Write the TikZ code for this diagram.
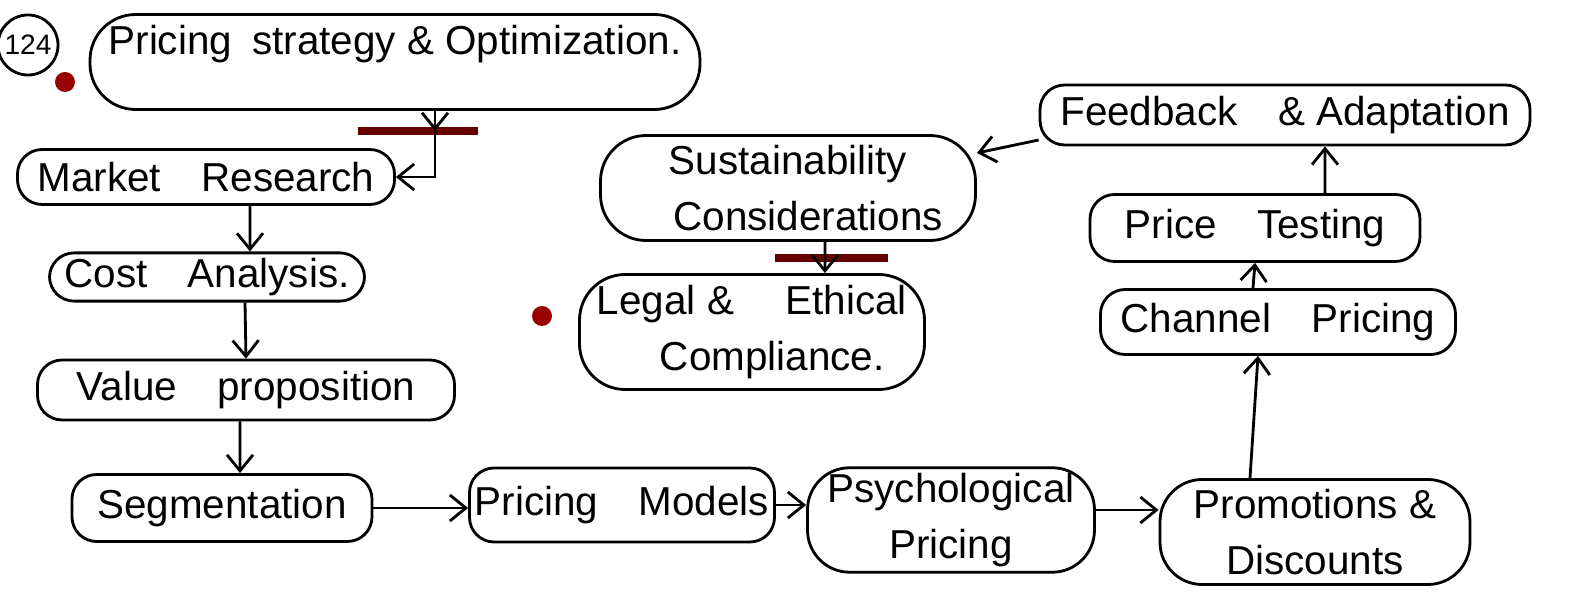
\documentclass[tikz,border=0pt]{standalone}
\usepackage{fontspec}
\setmainfont{Liberation Sans}
\usetikzlibrary{arrows.meta,positioning}

\tikzstyle{stage} = [rectangle, rounded corners=7pt, draw=black, thick, text centered, align=center, inner sep=1.5pt, font=\fontsize{11.5}{16}\selectfont]
\tikzstyle{arrow} = [thick,->,>={Straight Barb[length=1.6mm,width=2.6mm]}]
\tikzstyle{bar} = [line width=2.5pt, draw=red!40!black]
\tikzstyle{dot} = [circle, fill=red!60!black, inner sep=0pt, minimum size=2mm]

\begin{document}
\begin{tikzpicture}
\useasboundingbox (0,0) rectangle (15.72,-6.01);
\node (num) [circle, draw=black, thick, inner sep=1pt, minimum size=0.42cm, font=\footnotesize] at (0.28,-0.45) {124};
\node (dot1) [dot] at (0.65,-0.82) {};
\node (top) [stage, minimum width=6.1cm, minimum height=0.95cm, text depth=0.45cm, rounded corners=13pt] at (3.95,-0.62) {Pricing\enspace strategy \& Optimization.};
\node (market) [stage, minimum width=3.77cm, minimum height=0.55cm] at (2.06,-1.77) {Market\quad Research};
\node (cost) [stage, minimum width=3.15cm, minimum height=0.45cm] at (2.07,-2.77) {Cost\quad Analysis.};
\node (value) [stage, minimum width=4.17cm, minimum height=0.6cm] at (2.46,-3.90) {Value\quad proposition};
\node (seg) [stage, minimum width=3.0cm, minimum height=0.67cm] at (2.22,-5.08) {Segmentation};
\node (models) [stage, minimum width=3.05cm, minimum height=0.74cm] at (6.22,-5.05) {Pricing\quad Models};
\node (psych) [stage, minimum width=2.87cm, minimum height=1.0cm, rounded corners=12pt] at (9.51,-5.20) {Psychological\\Pricing};
\node (promo) [stage, minimum width=3.1cm, minimum height=1.05cm, rounded corners=12pt] at (13.15,-5.32) {Promotions \&\\Discounts};
\node (channel) [stage, minimum width=3.55cm, minimum height=0.65cm] at (12.78,-3.22) {Channel\quad Pricing};
\node (testing) [stage, minimum width=3.3cm, minimum height=0.67cm] at (12.55,-2.28) {Price\quad Testing};
\node (feedback) [stage, minimum width=4.9cm, minimum height=0.6cm] at (12.85,-1.15) {Feedback\quad \& Adaptation};
\node (sust) [stage, minimum width=3.75cm, minimum height=1.05cm, rounded corners=13pt] at (7.88,-1.88) {Sustainability\\\quad Considerations};
\node (legal) [stage, minimum width=3.45cm, minimum height=1.15cm, rounded corners=13pt] at (7.52,-3.32) {Legal \& \quad Ethical\\\quad Compliance.};
\node (dot2) [dot] at (5.42,-3.16) {};

% marker bars
\coordinate (j1) at (4.35,-1.31);
\draw [bar] (3.58,-1.31) -- (4.78,-1.31);
\draw [bar] (7.75,-2.58) -- (8.88,-2.58);

\draw [arrow] (top.south -| j1) -- (j1);
\draw [arrow] (j1) |- (market.east);
\draw [arrow] ([xshift=4.4mm]market.south) -- ([xshift=4.3mm]cost.north);
\draw [arrow] ([xshift=3.8mm]cost.south) -- (value.north);
\draw [arrow] ([xshift=-0.6mm]value.south) -- ([xshift=1.8mm]seg.north);
\draw [arrow] (seg.east) -- (seg.east -| models.west);
\draw [arrow] (models.east) -- (models.east -| psych.west);
\draw [arrow] ([yshift=1mm]psych.east) -- ([yshift=1mm]psych.east -| promo.west);
\draw [arrow] ([xshift=-6.5mm]promo.north) -- ([xshift=-2mm]channel.south);
\draw [arrow] ([xshift=-2.5mm]channel.north) -- (testing.south);
\draw [arrow] ([xshift=7mm]testing.north) -- ([xshift=4mm]feedback.south);
\draw [arrow] ([yshift=-2.5mm]feedback.west) -- ([yshift=3.5mm]sust.east);
\draw [arrow] ([xshift=3.7mm]sust.south) -- ([xshift=7.3mm]legal.north);
\end{tikzpicture}
\end{document}
